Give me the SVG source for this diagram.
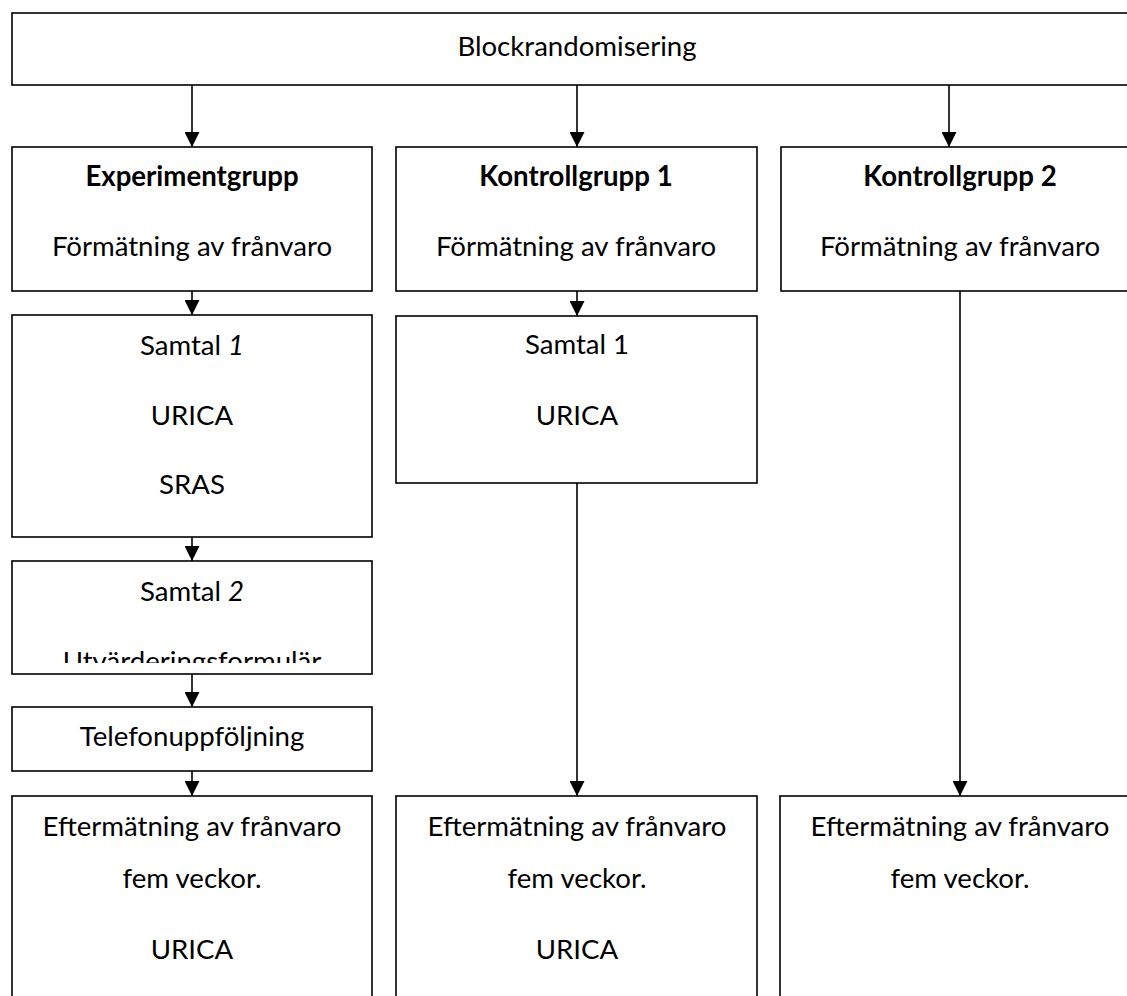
<svg xmlns="http://www.w3.org/2000/svg" width="1127" height="996" viewBox="0 0 1127 996">
<style>
.box{fill:#fff;stroke:#000;stroke-width:1.6}
.t{font-family:Lato,"Liberation Sans",sans-serif;font-size:27.6px;fill:#000;text-anchor:middle}
.b{font-weight:bold}
.i{font-style:italic}
.c{stroke:#000;stroke-width:1.6;fill:none}
</style>
<defs>
<marker id="arr" viewBox="0 0 15 15" refX="15" refY="7.5" markerWidth="15" markerHeight="15" orient="auto" markerUnits="userSpaceOnUse">
<path d="M0,0 L15,7.5 L0,15 z" fill="#000"/>
</marker>
<clipPath id="clipS2"><rect x="12" y="561" width="360" height="102"/></clipPath>
</defs>
<g id="connectors">
<line class="c" x1="192" y1="85" x2="192" y2="147" marker-end="url(#arr)"/>
<line class="c" x1="577" y1="85" x2="577" y2="147" marker-end="url(#arr)"/>
<line class="c" x1="949" y1="85" x2="949" y2="147" marker-end="url(#arr)"/>
<line class="c" x1="192" y1="291" x2="192" y2="315" marker-end="url(#arr)"/>
<line class="c" x1="577" y1="291" x2="577" y2="316" marker-end="url(#arr)"/>
<line class="c" x1="192" y1="537" x2="192" y2="561" marker-end="url(#arr)"/>
<line class="c" x1="192" y1="674" x2="192" y2="707" marker-end="url(#arr)"/>
<line class="c" x1="192" y1="771" x2="192" y2="796" marker-end="url(#arr)"/>
<line class="c" x1="577" y1="483" x2="577" y2="796" marker-end="url(#arr)"/>
<line class="c" x1="960" y1="291" x2="960" y2="796" marker-end="url(#arr)"/>
</g>
<g id="blockrandomisering">
<rect class="box" x="12" y="13" width="1130" height="72"/>
<text class="t" x="577" y="56">Blockrandomisering</text>
</g>
<g id="experimentgrupp">
<rect class="box" x="12" y="147" width="360" height="144"/>
<text class="t b" x="192" y="186">Experimentgrupp</text>
<text class="t" x="192" y="256">Förmätning av frånvaro</text>
</g>
<g id="kontrollgrupp1">
<rect class="box" x="396" y="147" width="361" height="144"/>
<text class="t b" x="576" y="186">Kontrollgrupp 1</text>
<text class="t" x="576" y="256">Förmätning av frånvaro</text>
</g>
<g id="kontrollgrupp2">
<rect class="box" x="781" y="147" width="360" height="144"/>
<text class="t b" x="960" y="186">Kontrollgrupp 2</text>
<text class="t" x="960" y="256">Förmätning av frånvaro</text>
</g>
<g id="exp-samtal1">
<rect class="box" x="12" y="315" width="360" height="222"/>
<text class="t" x="192" y="355">Samtal <tspan class="i">1</tspan></text>
<text class="t" x="192" y="425">URICA</text>
<text class="t" x="192" y="494">SRAS</text>
</g>
<g id="k1-samtal1">
<rect class="box" x="396" y="316" width="361" height="167"/>
<text class="t" x="577" y="354">Samtal 1</text>
<text class="t" x="577" y="425">URICA</text>
</g>
<g id="exp-samtal2">
<rect class="box" x="12" y="561" width="360" height="113"/>
<text class="t" x="192" y="601">Samtal <tspan class="i">2</tspan></text>
<text class="t" x="192" y="671" clip-path="url(#clipS2)">Utvärderingsformulär</text>
</g>
<g id="telefonuppfoljning">
<rect class="box" x="12" y="707" width="360" height="64"/>
<text class="t" x="192" y="746">Telefonuppföljning</text>
</g>
<g id="exp-eftermatning">
<rect class="box" x="12" y="796" width="360" height="220"/>
<text class="t" x="192" y="836">Eftermätning av frånvaro</text>
<text class="t" x="192" y="888">fem veckor.</text>
<text class="t" x="192" y="959">URICA</text>
</g>
<g id="k1-eftermatning">
<rect class="box" x="396" y="796" width="361" height="220"/>
<text class="t" x="577" y="836">Eftermätning av frånvaro</text>
<text class="t" x="577" y="888">fem veckor.</text>
<text class="t" x="577" y="959">URICA</text>
</g>
<g id="k2-eftermatning">
<rect class="box" x="780" y="796" width="361" height="220"/>
<text class="t" x="960" y="836">Eftermätning av frånvaro</text>
<text class="t" x="960" y="888">fem veckor.</text>
</g>
</svg>
